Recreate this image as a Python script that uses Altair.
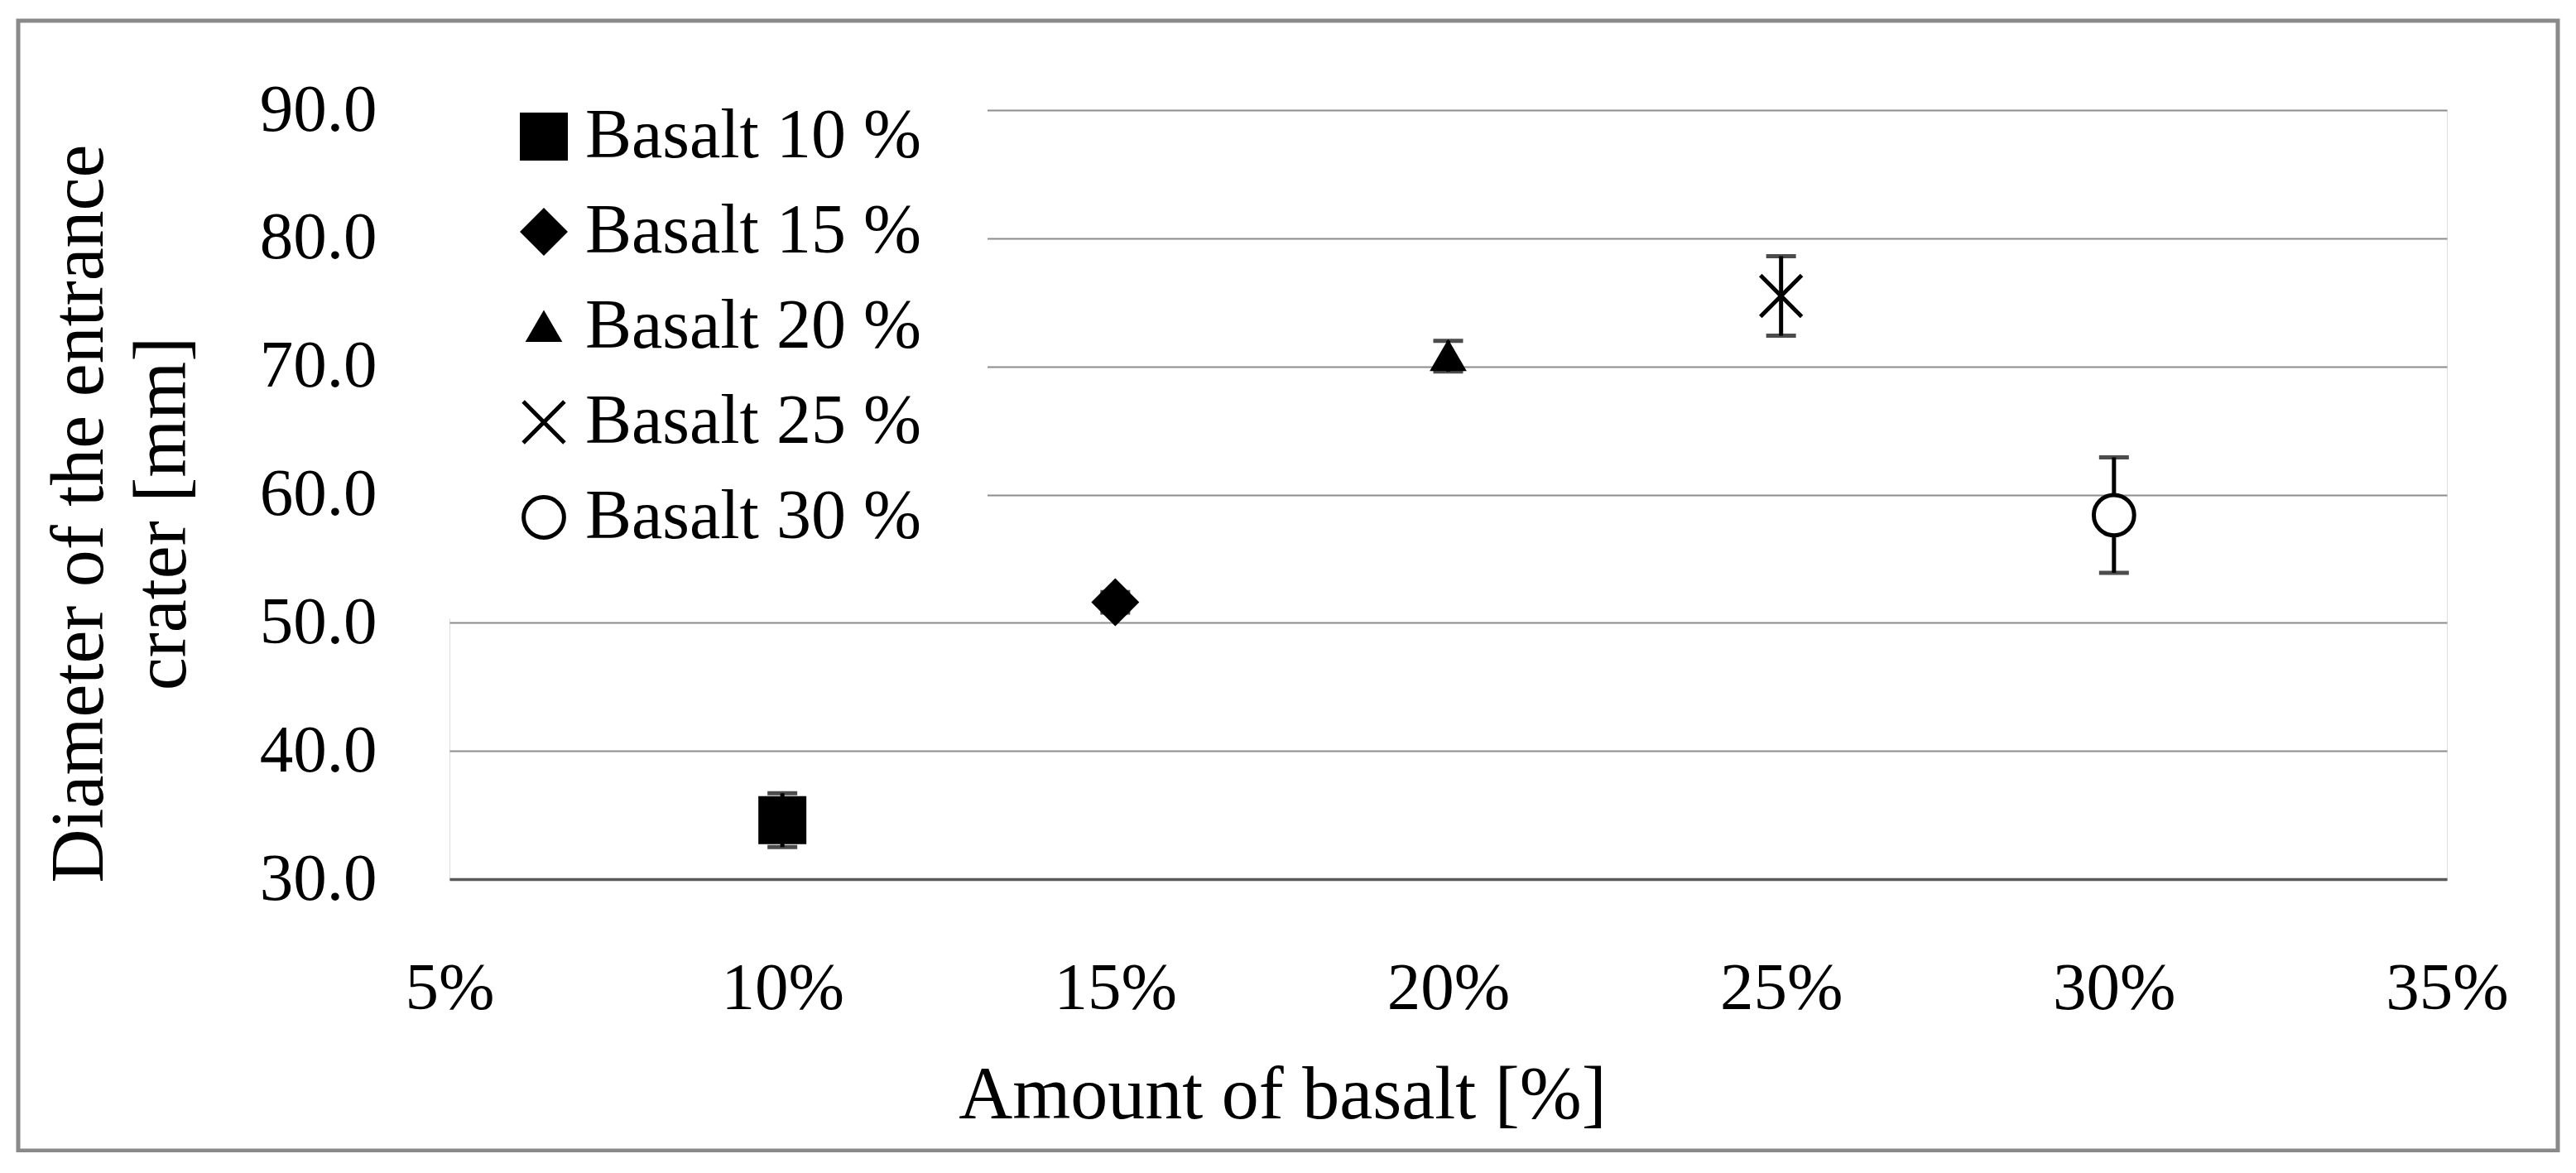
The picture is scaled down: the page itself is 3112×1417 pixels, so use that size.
import altair as alt
import pandas as pd

# ---- data ----
series = ["Basalt 10 %", "Basalt 15 %", "Basalt 20 %", "Basalt 25 %", "Basalt 30 %"]
amount = [0.10, 0.15, 0.20, 0.25, 0.30]
diameter = [34.6, 51.6, 70.8, 75.5, 58.4]
error = [2.1, 0.8, 1.2, 3.1, 4.5]
y_ticks = [30, 40, 50, 60, 70, 80, 90]
x_ticks = [0.05, 0.10, 0.15, 0.20, 0.25, 0.30, 0.35]

# marker styles (custom paths in the [-1, 1] box)
shapes = [
    "M-1,-1H1V1H-1Z",
    "M0,-0.96L0.96,0L0,0.96L-0.96,0Z",
    "M0,-0.585L0.68,0.585L-0.68,0.585Z",
    "M-0.94,-0.94L0.94,0.94M-0.94,0.94L0.94,-0.94",
    "M-0.92,0A0.92,0.92,0,1,1,0.92,0A0.92,0.92,0,1,1,-0.92,0Z",
]
fills = ["black", "black", "black", "transparent", "white"]
strokes = ["black", "black", "black", "black", "black"]

df = pd.DataFrame({
    "series": series,
    "amount": amount,
    "diameter": diameter,
    "lo": [d - e for d, e in zip(diameter, error)],
    "hi": [d + e for d, e in zip(diameter, error)],
})

FONT = "Liberation Serif"
W, H = 2413, 929

x_enc = alt.X(
    "amount:Q",
    scale=alt.Scale(domain=[0.05, 0.35], nice=False),
    axis=alt.Axis(
        values=x_ticks, format=".0%", title="Amount of basalt [%]",
        grid=False, ticks=False, tickSize=0, domain=True,
        domainColor="#595959", domainWidth=3.5,
        labelFont=FONT, labelFontSize=81, labelColor="black", labelPadding=92,
        labelFlush=False, labelOverlap=False,
        titleFont=FONT, titleFontSize=90, titleFontWeight="normal", titleColor="black",
        titleX=1006, titleY=288, titleAlign="center", titleBaseline="alphabetic",
    ),
)
y_enc = alt.Y(
    "diameter:Q",
    scale=alt.Scale(domain=[30, 90], nice=False, zero=False),
    axis=alt.Axis(
        values=y_ticks, format=".1f",
        title=["Diameter of the entrance", "crater [mm]"],
        grid=True, gridColor="#8c8c8c", gridWidth=2,
        ticks=False, tickSize=0, domain=False,
        labelFont=FONT, labelFontSize=81, labelColor="black", labelPadding=88,
        labelFlush=False, labelOverlap=False,
        titleFont=FONT, titleFontSize=90, titleFontWeight="normal", titleColor="black",
        titleAngle=270, titleX=-420, titleY=487, titleAlign="center",
        titleBaseline="alphabetic", titleLineHeight=100,
    ),
)

frame = alt.Chart(pd.DataFrame({"a": [0]})).mark_rect(
    fill="transparent", stroke="#898989", strokeWidth=5
).encode(
    x=alt.value(-521), x2=alt.value(2547), y=alt.value(-108), y2=alt.value(1257)
)

bars = alt.Chart(df).mark_rule(color="black", strokeWidth=5).encode(
    x=x_enc, y="lo:Q", y2="hi:Q"
)
caps_hi = alt.Chart(df).mark_tick(
    color="black", orient="horizontal", size=36, thickness=5
).encode(x="amount:Q", y="hi:Q")
caps_lo = alt.Chart(df).mark_tick(
    color="black", orient="horizontal", size=36, thickness=5
).encode(x="amount:Q", y="lo:Q")

legend = alt.Legend(
    title=None, orient="none", legendX=-8, legendY=-90,
    labelFont=FONT, labelFontSize=84, labelColor="black", labelOffset=8,
    symbolSize=2809, symbolStrokeWidth=5,
    rowPadding=31, padding=80, fillColor="white", labelLimit=1000,
)

points = alt.Chart(df).mark_point(
    filled=True, size=2809, strokeWidth=5, opacity=1
).encode(
    x="amount:Q",
    y=y_enc,
    shape=alt.Shape("series:N", scale=alt.Scale(domain=series, range=shapes), legend=legend),
    fill=alt.Fill("series:N", scale=alt.Scale(domain=series, range=fills), legend=legend),
    stroke=alt.Stroke("series:N", scale=alt.Scale(domain=series, range=strokes), legend=legend),
)

chart = alt.layer(frame, bars, caps_hi, caps_lo, points).properties(
    width=W, height=H,
    autosize=alt.AutoSizeParams(type="none"),
    padding={"left": 535, "top": 125, "right": 148, "bottom": 330},
).configure_view(stroke=None).configure(background="white")

chart.save("out.html", embed_options={"renderer": "svg", "actions": False})
